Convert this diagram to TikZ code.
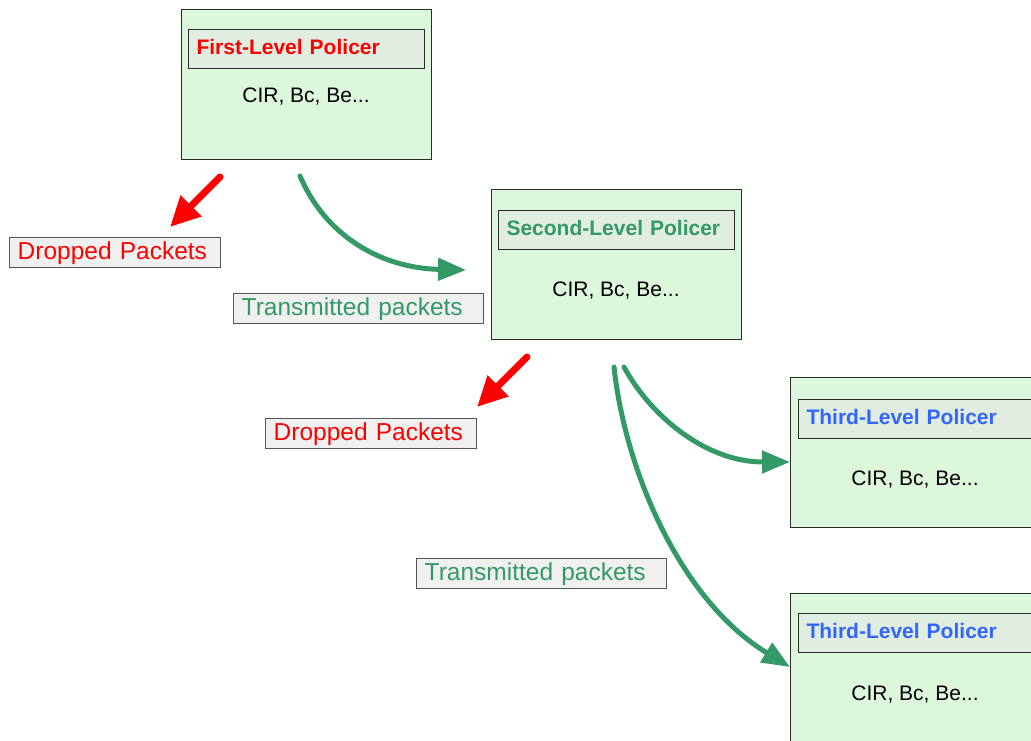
\documentclass[tikz,border=0pt]{standalone}
\usepackage{fontspec}
\setmainfont{Liberation Sans}
\usetikzlibrary{arrows.meta}

\definecolor{boxfill}{HTML}{DDF7DD}
\definecolor{boxline}{HTML}{2A2A2A}
\definecolor{titlefill}{HTML}{E0EDE0}
\definecolor{tagfill}{HTML}{F0F0F0}
\definecolor{tagline}{HTML}{555555}
\definecolor{dropred}{HTML}{FF0000}
\definecolor{passgreen}{HTML}{339966}
\definecolor{thirdblue}{HTML}{3366FF}

\tikzset{
  policer/.style={draw=boxline, line width=1.2pt, fill=boxfill,
    minimum width=250pt, minimum height=150pt, anchor=north west, inner sep=0pt},
  titlebar/.style={draw=boxline, line width=1.1pt, fill=titlefill,
    minimum height=39pt, anchor=north west, text width=220pt,
    inner xsep=8pt, inner ysep=0pt, align=left, text height=15pt, text depth=4pt,
    font=\fontsize{21}{25}\selectfont\bfseries},
  params/.style={anchor=base, inner sep=0pt, font=\fontsize{21}{25}\selectfont},
  tag/.style={draw=tagline, line width=1.4pt, fill=tagfill,
    minimum height=30pt, anchor=north west, inner xsep=8pt, inner ysep=0pt,
    align=left, font=\fontsize{24.5}{28}\selectfont},
  droparrow/.style={draw=dropred, line width=7pt, line cap=round,
    -{Triangle[length=30pt,width=28pt]}},
  passarrow/.style={draw=passgreen, line width=5pt, line cap=round,
    -{Triangle[length=28pt,width=22pt]}},
}

\begin{document}
\begin{tikzpicture}[x=1pt, y=-1pt]
  \useasboundingbox (0,0) rectangle (1031,741);
  \clip (0,0) rectangle (1031,741);

  % first-level policer
  \node[policer] (p1) at (181,9) {};
  \node[titlebar, text=dropred] (p1t) at (188,29) {First-Level Policer};
  \node[params] (p1p) at (306,103) {CIR, Bc, Be...};

  % second-level policer
  \node[policer] (p2) at (491,189) {};
  \node[titlebar, text=passgreen] (p2t) at (498,210) {Second-Level Policer};
  \node[params] (p2p) at (616,296) {CIR, Bc, Be...};

  % third-level policers
  \node[policer] (p3a) at (790,377) {};
  \node[titlebar, text=thirdblue] (p3at) at (798,399) {Third-Level Policer};
  \node[params] (p3ap) at (915,485) {CIR, Bc, Be...};

  \node[policer] (p3b) at (790,593) {};
  \node[titlebar, text=thirdblue] (p3bt) at (798,613) {Third-Level Policer};
  \node[params] (p3bp) at (915,700) {CIR, Bc, Be...};

  % packet labels
  \node[tag, text=dropred, text width=195pt] (drop1) at (9,237) {Dropped Packets};
  \node[tag, text=passgreen, text width=234pt] (pass1) at (233,293) {Transmitted packets};
  \node[tag, text=dropred, text width=195pt] (drop2) at (265,418) {Dropped Packets};
  \node[tag, text=passgreen, text width=234pt] (pass2) at (416,558) {Transmitted packets};

  % arrow end points
  \coordinate (d1s) at (220,177);
  \coordinate (d1e) at (170,227);
  \coordinate (g1s) at (300,176);
  \coordinate (g1e) at (466,270);
  \coordinate (d2s) at (527,357);
  \coordinate (d2e) at (477,407);
  \coordinate (g2s) at (624,367);
  \coordinate (g2e) at (p3a.west |- 0,462);
  \coordinate (g3s) at (614,367);
  \coordinate (g3e) at (p3b.west |- 0,667);

  % dropped traffic
  \draw[droparrow] (d1s) -- (d1e);
  \draw[droparrow] (d2s) -- (d2e);

  % transmitted traffic
  \draw[passarrow] (g1s) .. controls (325,235) and (380,268) .. (g1e);
  \draw[passarrow] (g2s) .. controls (650,415) and (705,462) .. (g2e);
  \draw[passarrow] (g3s) .. controls (625,470) and (680,600) .. (g3e);
\end{tikzpicture}
\end{document}
